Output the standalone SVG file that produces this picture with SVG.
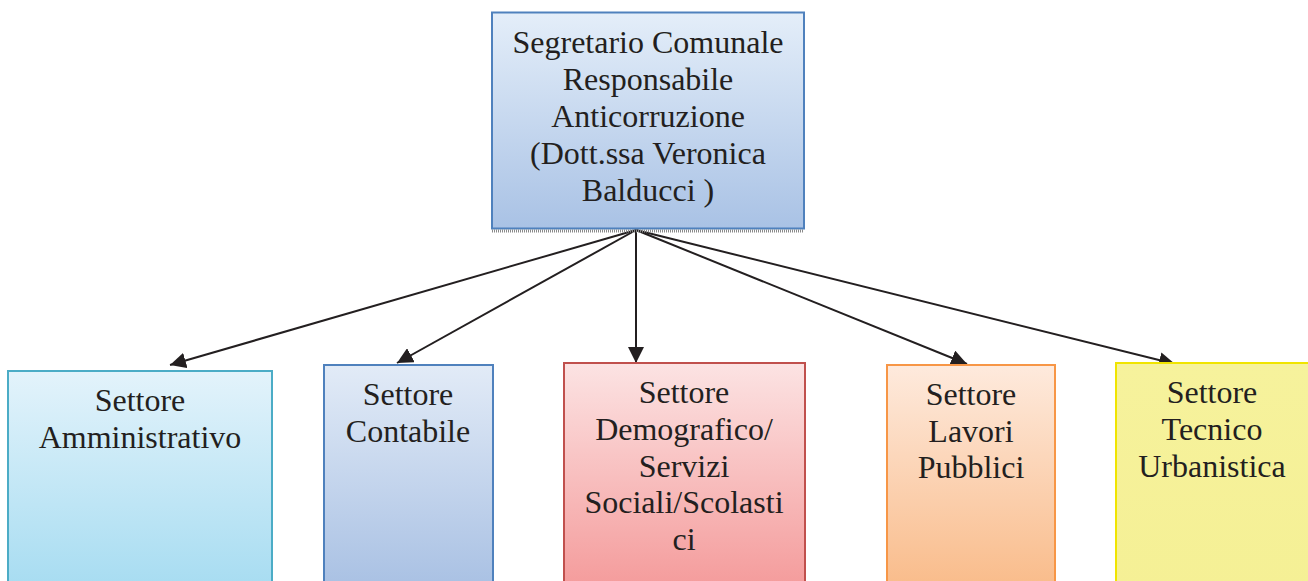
<svg xmlns="http://www.w3.org/2000/svg" width="1308" height="581" viewBox="0 0 1308 581">
<style>
text{font-family:"Liberation Serif","Times New Roman",serif;font-size:32px;fill:#231f20;text-anchor:middle}
.c line{stroke:#231f20;stroke-width:2}
</style>
<defs>
<marker id="ah" viewBox="0 0 16 16" refX="16" refY="8" markerWidth="16" markerHeight="16" markerUnits="userSpaceOnUse" orient="auto">
<path d="M0,0 L16,8 L0,16 Z" fill="#231f20"/>
</marker>
<linearGradient id="gTop" x1="0" y1="0" x2="0" y2="1"><stop offset="0" stop-color="#e4eef9"/><stop offset="1" stop-color="#a9c2e5"/></linearGradient>
<linearGradient id="g1" x1="0" y1="0" x2="0" y2="1"><stop offset="0" stop-color="#e3f3fb"/><stop offset="1" stop-color="#a6dcf1"/></linearGradient>
<linearGradient id="g2" x1="0" y1="0" x2="0" y2="1"><stop offset="0" stop-color="#e2ebf7"/><stop offset="1" stop-color="#a8c0e3"/></linearGradient>
<linearGradient id="g3" x1="0" y1="0" x2="0" y2="1"><stop offset="0" stop-color="#fce3e3"/><stop offset="1" stop-color="#f49a9a"/></linearGradient>
<linearGradient id="g4" x1="0" y1="0" x2="0" y2="1"><stop offset="0" stop-color="#feeadd"/><stop offset="1" stop-color="#f9bb89"/></linearGradient>
<linearGradient id="g5" x1="0" y1="0" x2="0" y2="1"><stop offset="0" stop-color="#f6f29c"/><stop offset="1" stop-color="#f5f095"/></linearGradient>
</defs>
<rect width="1308" height="581" fill="#fff"/>
<g class="c" id="connectors">
<line x1="636" y1="230" x2="170" y2="365" marker-end="url(#ah)"/>
<line x1="636" y1="230" x2="397" y2="363" marker-end="url(#ah)"/>
<line x1="636" y1="230" x2="636" y2="363" marker-end="url(#ah)"/>
<line x1="636" y1="230" x2="967" y2="364" marker-end="url(#ah)"/>
<line x1="636" y1="230" x2="1175" y2="364" marker-end="url(#ah)"/>
</g>
<g id="top">
<rect x="492" y="12.5" width="312" height="216" fill="url(#gTop)" stroke="#4f81bd" stroke-width="2"/>
<line x1="492" y1="231" x2="804" y2="231" stroke="#8a8a8a" stroke-width="3" stroke-dasharray="1 1"/>
<text x="648" y="53">Segretario Comunale</text>
<text x="648" y="90">Responsabile</text>
<text x="648" y="127">Anticorruzione</text>
<text x="648" y="164">(Dott.ssa Veronica</text>
<text x="648" y="201">Balducci )</text>
</g>
<g id="n1">
<rect x="8" y="371" width="264" height="220" fill="url(#g1)" stroke="#4bacc6" stroke-width="2"/>
<text x="140" y="411">Settore</text>
<text x="140" y="448">Amministrativo</text>
</g>
<g id="n2">
<rect x="324" y="365" width="169" height="226" fill="url(#g2)" stroke="#4f81bd" stroke-width="2"/>
<text x="408" y="405">Settore</text>
<text x="408" y="442">Contabile</text>
</g>
<g id="n3">
<rect x="564" y="363" width="241" height="228" fill="url(#g3)" stroke="#c0504d" stroke-width="2"/>
<text x="684" y="403">Settore</text>
<text x="684" y="440">Demografico/</text>
<text x="684" y="477">Servizi</text>
<text x="684" y="513">Sociali/Scolasti</text>
<text x="684" y="550">ci</text>
</g>
<g id="n4">
<rect x="887" y="365" width="168" height="226" fill="url(#g4)" stroke="#f79646" stroke-width="2"/>
<text x="971" y="405">Settore</text>
<text x="971" y="442">Lavori</text>
<text x="971" y="478">Pubblici</text>
</g>
<g id="n5">
<rect x="1116" y="363" width="200" height="228" fill="url(#g5)" stroke="#f0e400" stroke-width="2"/>
<text x="1212" y="403">Settore</text>
<text x="1212" y="440">Tecnico</text>
<text x="1212" y="477">Urbanistica</text>
</g>
</svg>
